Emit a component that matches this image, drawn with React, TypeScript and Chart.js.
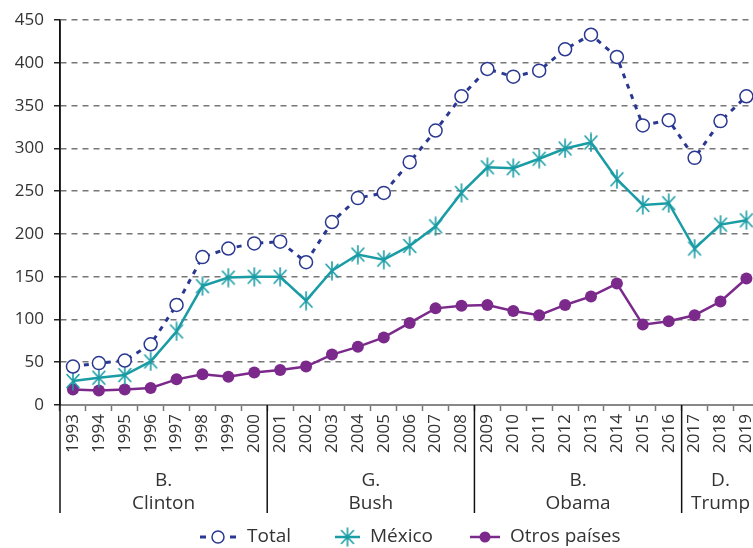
import React, { useEffect, useRef } from "react";
import { Chart, registerables } from "chart.js";

Chart.register(...registerables);

const years = [
  "1993", "1994", "1995", "1996", "1997", "1998", "1999", "2000",
  "2001", "2002", "2003", "2004", "2005", "2006", "2007", "2008",
  "2009", "2010", "2011", "2012", "2013", "2014", "2015", "2016",
  "2017", "2018", "2019",
];

const total = [
  45, 49, 52, 71, 117, 173, 183, 189,
  191, 167, 214, 242, 248, 284, 321, 361,
  393, 384, 391, 416, 433, 407, 327, 333,
  289, 332, 361,
];

const mexico = [
  28, 32, 35, 51, 86, 139, 149, 150,
  150, 122, 157, 176, 170, 186, 209, 248,
  278, 277, 288, 300, 307, 264, 234, 236,
  183, 211, 216,
];

const otros = [
  18, 17, 18, 20, 30, 36, 33, 38,
  41, 45, 59, 68, 79, 96, 113, 116,
  117, 110, 105, 117, 127, 142, 94, 98,
  105, 121, 148,
];

const presidents = [
  { lines: ["B.", "Clinton"], from: 0, to: 7 },
  { lines: ["G.", "Bush"], from: 8, to: 15 },
  { lines: ["B.", "Obama"], from: 16, to: 23 },
  { lines: ["D.", "Trump"], from: 24, to: 26 },
];

const legendLabels = ["Total", "México", "Otros países"];

const NAVY = "#2b3891";
const TEAL = "#1a9ca5";
const PURPLE = "#7b2a8b";
const TEXT = "#333333";
const FONT = "'Open Sans', sans-serif";

function makeAsterisk(): HTMLCanvasElement {
  const c = document.createElement("canvas");
  c.width = 16;
  c.height = 20;
  const g = c.getContext("2d")!;
  g.strokeStyle = TEAL;
  g.lineWidth = 1.6;
  g.lineCap = "round";
  g.beginPath();
  g.moveTo(8, 1);
  g.lineTo(8, 19);
  g.moveTo(2, 3.5);
  g.lineTo(14, 16.5);
  g.moveTo(14, 3.5);
  g.lineTo(2, 16.5);
  g.stroke();
  return c;
}

export default function App() {
  const ref = useRef<HTMLCanvasElement | null>(null);

  useEffect(() => {
    if (!ref.current) return;
    const star = makeAsterisk();

    const groupPlugin = {
      id: "groups",
      afterDraw(chart: any) {
        const ctx = chart.ctx;
        const x = chart.scales.x;
        const area = chart.chartArea;
        const band = (area.right - area.left) / years.length;
        const bottom = 513;
        ctx.save();
        ctx.strokeStyle = "#111";
        ctx.lineWidth = 1.5;
        presidents.forEach((p) => {
          const left = x.getPixelForValue(p.from) - band / 2;
          const right = x.getPixelForValue(p.to) + band / 2;
          ctx.beginPath();
          ctx.moveTo(left, p.from === 0 ? area.top : area.bottom);
          ctx.lineTo(left, bottom);
          ctx.stroke();
          const cx = (left + right) / 2;
          ctx.fillStyle = TEXT;
          ctx.font = `19px ${FONT}`;
          ctx.textAlign = "center";
          ctx.textBaseline = "middle";
          ctx.fillText(p.lines[0], cx, 481);
          ctx.fillText(p.lines[1], cx, 504);
        });

        // legend
        const ly = 537;
        ctx.font = `19px ${FONT}`;
        ctx.textAlign = "left";
        ctx.textBaseline = "middle";
        // Total
        ctx.strokeStyle = NAVY;
        ctx.lineWidth = 3;
        ctx.beginPath();
        ctx.moveTo(200, ly);
        ctx.lineTo(206, ly);
        ctx.moveTo(230, ly);
        ctx.lineTo(236, ly);
        ctx.stroke();
        ctx.lineWidth = 1.5;
        ctx.fillStyle = "#fff";
        ctx.beginPath();
        ctx.arc(218, ly, 6, 0, Math.PI * 2);
        ctx.fill();
        ctx.stroke();
        ctx.fillStyle = TEXT;
        ctx.fillText(legendLabels[0], 247, ly);
        // Mexico
        ctx.strokeStyle = TEAL;
        ctx.lineWidth = 2.5;
        ctx.beginPath();
        ctx.moveTo(335, ly);
        ctx.lineTo(360, ly);
        ctx.stroke();
        ctx.drawImage(star, 347.5 - 8, ly - 10);
        ctx.fillStyle = TEXT;
        ctx.fillText(legendLabels[1], 370, ly);
        // Otros
        ctx.strokeStyle = PURPLE;
        ctx.lineWidth = 2.5;
        ctx.beginPath();
        ctx.moveTo(470, ly);
        ctx.lineTo(500, ly);
        ctx.stroke();
        ctx.fillStyle = PURPLE;
        ctx.beginPath();
        ctx.arc(485, ly, 5.5, 0, Math.PI * 2);
        ctx.fill();
        ctx.fillStyle = TEXT;
        ctx.fillText(legendLabels[2], 510, ly);
        ctx.restore();
      },
    };

    const chart = new Chart(ref.current, {
      type: "line",
      data: {
        labels: years,
        datasets: [
          {
            label: legendLabels[0],
            data: total,
            borderColor: NAVY,
            borderWidth: 3,
            borderDash: [5, 6],
            pointStyle: "circle",
            pointRadius: 6.5,
            pointBorderWidth: 1.5,
            pointBackgroundColor: "#fff",
            pointBorderColor: NAVY,
            tension: 0,
          },
          {
            label: legendLabels[1],
            data: mexico,
            borderColor: TEAL,
            borderWidth: 2.5,
            pointStyle: star,
            pointRadius: 8,
            tension: 0,
          },
          {
            label: legendLabels[2],
            data: otros,
            borderColor: PURPLE,
            borderWidth: 2.5,
            pointStyle: "circle",
            pointRadius: 6,
            pointBorderWidth: 0,
            pointBackgroundColor: PURPLE,
            pointBorderColor: PURPLE,
            tension: 0,
          },
        ],
      },
      options: {
        animation: false,
        responsive: false,
        layout: { padding: { top: 16, right: 7, bottom: 0, left: 0 } },
        plugins: { legend: { display: false }, tooltip: { enabled: false } },
        scales: {
          x: {
            type: "category",
            offset: true,
            afterFit: (s: any) => {
              s.height = 143;
            },
            grid: {
              offset: true,
              drawOnChartArea: false,
              drawTicks: true,
              tickLength: 6,
              tickColor: "#777",
              tickWidth: 1.5,
              tickBorderDash: [],
            },
            border: { display: true, color: "#888", width: 2 },
            ticks: {
              minRotation: 90,
              maxRotation: 90,
              autoSkip: false,
              padding: 3,
              color: TEXT,
              font: { family: FONT, size: 17 },
            },
          },
          y: {
            min: 0,
            max: 450,
            afterFit: (s: any) => {
              s.width = 60;
            },
            grid: {
              color: "#777",
              lineWidth: 1.5,
              drawTicks: true,
              tickLength: 6,
              tickColor: "#222",
              tickWidth: 1.5,
              tickBorderDash: [],
            },
            border: { display: true, color: "#111", width: 1.5, dash: [6, 5] },
            ticks: {
              stepSize: 50,
              padding: 10,
              color: TEXT,
              font: { family: FONT, size: 17 },
            },
          },
        },
      },
      plugins: [groupPlugin],
    });

    return () => chart.destroy();
  }, []);

  return (
    <div
      style={{
        position: "fixed",
        left: 0,
        top: 0,
        width: 753,
        height: 548,
        overflow: "hidden",
        background: "#fff",
      }}
    >
      <canvas ref={ref} width={770} height={548} style={{ display: "block" }} />
    </div>
  );
}
